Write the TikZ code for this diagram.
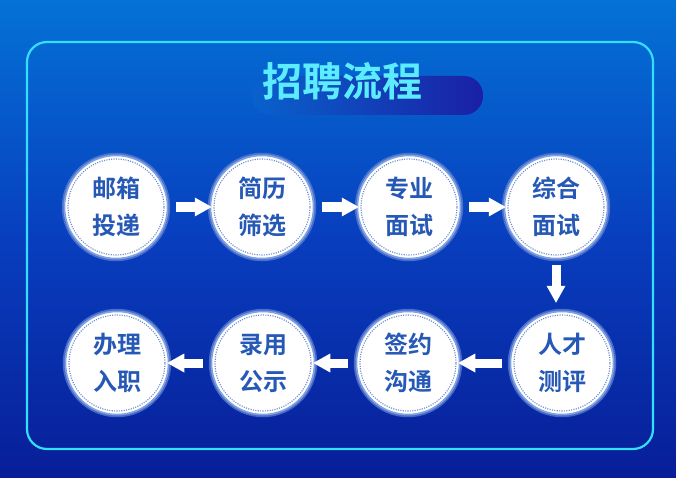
\documentclass[tikz,border=0pt]{standalone}
\usepackage{fontspec}
\newfontfamily\cjk{Noto Sans CJK SC}[BoldFont={Noto Sans CJK SC Bold}]
\usetikzlibrary{arrows.meta}
\definecolor{bgtop}{RGB}{4,114,214}
\definecolor{bgmid}{RGB}{8,62,190}
\definecolor{bgbottom}{RGB}{8,30,152}
\definecolor{framecolor}{RGB}{52,222,255}
\definecolor{titlecolor}{RGB}{92,236,255}
\definecolor{titlebar}{RGB}{26,32,165}
\definecolor{stagetext}{RGB}{38,88,182}
\definecolor{stageglow}{RGB}{90,128,212}
\definecolor{stagedots}{RGB}{60,108,200}
\tikzset{
    x={1pt},
    y={-1pt},
    frame/.style={
        draw=framecolor,
        line width={2.2pt},
        rounded corners={20pt},
    },
    title label/.style={
        font={\cjk\bfseries\fontsize{40}{40}\selectfont},
        text=titlecolor,
        inner sep=0pt,
    },
    stage/.style={
        circle, fill=white,
        draw=stageglow, draw opacity=0.75,
        line width={3.5pt},
        minimum size={105pt},
        inner sep=0pt,
        align=center,
        text=stagetext,
        font={\cjk\bfseries\fontsize{24}{37}\selectfont},
        path picture={
            \draw[stagedots, line width={1.2pt}, dash pattern={on 1.1pt off 1.3pt}]
                (path picture bounding box.center) circle[radius=48pt];
        },
    },
    flow/.style={
        draw=white,
        line width={9pt},
        -{Triangle[length=17pt,width=19pt,line width=0pt]},
        shorten <={#1},
    },
    flow/.default={6pt},
}

\begin{document}
\begin{tikzpicture}
% background
\useasboundingbox (0,0) rectangle (676,478);
\shade[top color=bgtop, bottom color=bgbottom, middle color=bgmid] (0,0) rectangle (676,478);
\path[frame] (27,42) rectangle (653,449);
% title
\shade[left color=bgtop!80!titlebar, right color=titlebar, rounded corners={19pt}] (252,76) rectangle (483,115);
\node[title label] (title) at (342,81) {招聘流程};
% stages
\node[stage] (mail) at (116,207) {邮箱\\投递};
\node[stage] (screen) at (262,207) {简历\\筛选};
\node[stage] (expert) at (409,207) {专业\\面试};
\node[stage] (overall) at (556,207) {综合\\面试};
\node[stage] (assess) at (562,363) {人才\\测评};
\node[stage] (sign) at (408,363) {签约\\沟通};
\node[stage] (offer) at (263,363) {录用\\公示};
\node[stage] (onboard) at (117,363) {办理\\入职};
% arrows
\draw[flow, shorten >=-4pt] (mail) -- (screen);
\draw[flow, shorten >=-4pt] (screen) -- (expert);
\draw[flow, shorten >=-4pt] (expert) -- (overall);
\draw[flow=4pt, shorten >=6pt] (overall) -- (overall |- assess.north);
\draw[flow, shorten >=-4pt] (assess) -- (sign);
\draw[flow, shorten >=-4pt] (sign) -- (offer);
\draw[flow, shorten >=-4pt] (offer) -- (onboard);
\end{tikzpicture}
\end{document}
